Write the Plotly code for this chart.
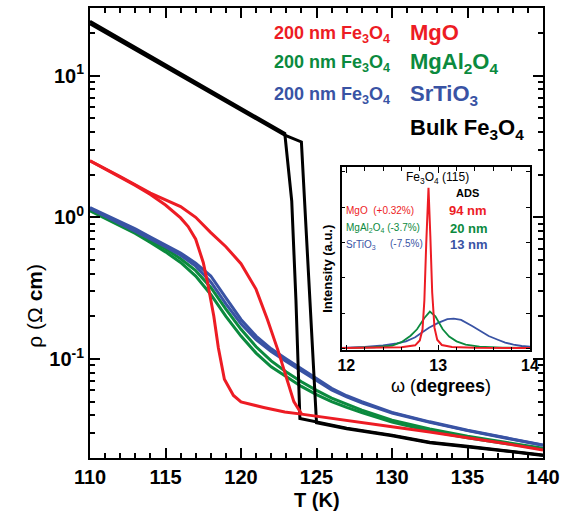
import plotly.graph_objects as go

# ---------------- main panel data ----------------
bulk_cool_T = [110, 122.9, 123.36, 123.64, 123.9, 125, 127, 130, 132.5, 135, 137.5, 140]
bulk_cool_rho = [24.2, 3.9, 1.30, 0.258, 0.038, 0.036, 0.0325, 0.029, 0.0258, 0.0242, 0.0226, 0.021]
bulk_warm_T = [110, 122.9, 124.0, 125.0, 127, 130, 132.5, 135, 137.5, 140]
bulk_warm_rho = [23.2, 3.8, 3.4, 0.0355, 0.0322, 0.0287, 0.0256, 0.024, 0.0224, 0.0208]

mgo_cool_T = [110, 112, 113, 114, 115, 116, 116.5, 117, 117.5, 117.8, 118.2, 118.5, 118.9, 119.5, 120.0,
              121.5, 122.9, 124.0, 127, 130, 132.5, 135, 137.5, 140]
mgo_cool_rho = [2.5, 1.93, 1.68, 1.45, 1.22, 0.99, 0.86, 0.7, 0.48, 0.34, 0.2, 0.12, 0.072, 0.0553, 0.0497,
                0.0455, 0.0422, 0.0408, 0.037, 0.0332, 0.0305, 0.0279, 0.0253, 0.0228]
mgo_warm_T = [110, 112, 114, 115, 116, 117, 118, 119, 120, 121, 121.75, 122.45, 123.0, 123.5, 124.0]
mgo_warm_rho = [2.5, 1.94, 1.48, 1.33, 1.19, 1.0, 0.78, 0.62, 0.47, 0.31, 0.19, 0.115, 0.075, 0.05, 0.041]

film_T = [110, 111, 112, 113, 114, 115, 116, 117, 118, 119, 120, 121, 122, 123, 124, 125, 126, 127, 128,
          130, 132.5, 135, 137.5, 140]
sto_warm_rho = [1.17, 1.04, 0.93, 0.83, 0.725, 0.64, 0.56, 0.475, 0.385, 0.27, 0.19, 0.145, 0.118, 0.1,
                0.085, 0.073, 0.062, 0.055, 0.05, 0.042, 0.036, 0.0314, 0.0278, 0.0247]
sto_cool_rho = [1.15, 1.02, 0.905, 0.805, 0.705, 0.62, 0.54, 0.452, 0.35, 0.245, 0.177, 0.137, 0.113,
                0.096, 0.082, 0.0705, 0.0605, 0.054, 0.049, 0.0415, 0.0357, 0.0312, 0.0277, 0.0246]
mao_warm_rho = [1.13, 1.0, 0.89, 0.79, 0.69, 0.6, 0.51, 0.42, 0.32, 0.225, 0.162, 0.122, 0.097, 0.081,
                0.069, 0.06, 0.053, 0.048, 0.0435, 0.037, 0.032, 0.0285, 0.0257, 0.0234]
mao_cool_rho = [1.11, 0.985, 0.87, 0.77, 0.665, 0.57, 0.48, 0.385, 0.285, 0.2, 0.145, 0.11, 0.088,
                0.0745, 0.064, 0.056, 0.05, 0.0455, 0.0418, 0.0358, 0.031, 0.0278, 0.0253, 0.0231]

# ---------------- inset data ----------------
mgo_w = [11.95, 12.3, 12.6, 12.75, 12.8, 12.83, 12.85, 12.87, 12.895, 12.915, 12.935, 12.96, 12.99,
         13.04, 13.15, 13.4, 14.0]
mgo_I = [0.003, 0.004, 0.008, 0.02, 0.05, 0.12, 0.3, 0.65, 1.0, 0.7, 0.35, 0.13, 0.055,
         0.022, 0.01, 0.005, 0.003]
mao_w = [11.95, 12.3, 12.5, 12.6, 12.7, 12.77, 12.85, 12.91, 12.97, 13.05, 13.12, 13.2, 13.3, 13.45,
         13.7, 14.0]
mao_I = [0.003, 0.008, 0.018, 0.04, 0.08, 0.12, 0.19, 0.23, 0.2, 0.12, 0.075, 0.045, 0.025, 0.012,
         0.006, 0.004]
sto_w = [11.95, 12.2, 12.4, 12.55, 12.65, 12.75, 12.82, 12.9, 13.0, 13.1, 13.17, 13.25, 13.37, 13.47,
         13.55, 13.65, 13.73, 13.82, 13.91, 14.0]
sto_I = [0.004, 0.01, 0.02, 0.032, 0.045, 0.07, 0.098, 0.13, 0.16, 0.183, 0.186, 0.178, 0.14, 0.105,
         0.078, 0.055, 0.037, 0.025, 0.016, 0.012]

# ---------------- ticks ----------------
x_ticks = [110, 115, 120, 125, 130, 135, 140]
y_tickvals = [0.1, 1, 10]
y_ticktext = ["10<sup>-1</sup>", "10<sup>0</sup>", "10<sup>1</sup>"]
y_minor = [0.02, 0.03, 0.04, 0.05, 0.06, 0.07, 0.08, 0.09, 0.2, 0.3, 0.4, 0.5, 0.6, 0.7, 0.8, 0.9,
           2, 3, 4, 5, 6, 7, 8, 9, 20, 30]
inset_ticks = [12, 13, 14]

RED = "#ED1C24"
GREEN = "#0B8A3E"
BLUE = "#3953A4"
BLACK = "#000000"
FONT = "Liberation Sans, Arial, sans-serif"

fig = go.Figure()

def add_line(x, y, color, width, xa="x", ya="y"):
    fig.add_trace(go.Scatter(x=x, y=y, mode="lines", line=dict(color=color, width=width),
                             xaxis=xa, yaxis=ya, showlegend=False, hoverinfo="skip"))

add_line(film_T, mao_cool_rho, GREEN, 3)
add_line(film_T, mao_warm_rho, GREEN, 3)
add_line(film_T, sto_cool_rho, BLUE, 3)
add_line(film_T, sto_warm_rho, BLUE, 3)
add_line(bulk_cool_T, bulk_cool_rho, BLACK, 3)
add_line(bulk_warm_T, bulk_warm_rho, BLACK, 3)
add_line(mgo_cool_T, mgo_cool_rho, RED, 3)
add_line(mgo_warm_T, mgo_warm_rho, RED, 3)

add_line(sto_w, sto_I, BLUE, 1.8, "x2", "y2")
add_line(mao_w, mao_I, GREEN, 1.8, "x2", "y2")
add_line(mgo_w, mgo_I, RED, 2, "x2", "y2")

L, R, T, B = 90, 543, 6, 458
def px(x):
    return (x - L) / (R - L)
def py(y):
    return (B - y) / (B - T)

tfont = dict(family=FONT, size=20, color=BLACK, weight="bold")

fig.update_layout(
    width=574, height=515,
    margin=dict(l=L, r=574 - R, t=T, b=515 - B),
    paper_bgcolor="white", plot_bgcolor="white",
    xaxis=dict(domain=[0, 1], range=[110, 140], tickmode="array", tickvals=x_ticks,
               ticks="inside", ticklen=10, tickwidth=2, tickcolor=BLACK,
               showline=True, linecolor=BLACK, linewidth=2, mirror="ticks",
               showgrid=False, zeroline=False, tickfont=tfont,
               minor=dict(dtick=1, ticks="inside", ticklen=5, tickwidth=1.6, tickcolor=BLACK)),
    yaxis=dict(domain=[0, 1], type="log", range=[-1.69897, 1.47712], tickmode="array",
               tickvals=y_tickvals, ticktext=y_ticktext,
               ticks="inside", ticklen=10, tickwidth=2, tickcolor=BLACK,
               showline=True, linecolor=BLACK, linewidth=2, mirror="ticks",
               showgrid=False, zeroline=False, tickfont=tfont,
               minor=dict(tickvals=y_minor, ticks="inside", ticklen=5, tickwidth=1.6, tickcolor=BLACK)),
    xaxis2=dict(domain=[px(341.7), px(530)], anchor="y2", range=[11.95, 14.0], tickmode="array",
                tickvals=inset_ticks, ticklen=6, tickwidth=1.3, showline=True, linecolor=BLACK,
                linewidth=1.5, mirror="ticks", ticks="inside", tickcolor=BLACK, showgrid=False,
                zeroline=False,
                minor=dict(dtick=0.2, tick0=12, ticks="inside", ticklen=4, tickwidth=1.1, tickcolor=BLACK),
                tickfont=dict(family=FONT, size=16, color=BLACK, weight="bold")),
    yaxis2=dict(domain=[py(350), py(166)], anchor="x2", range=[-0.012, 1.128], tick0=0, dtick=0.22,
                showticklabels=False, ticklen=4, tickwidth=1.1, showline=True, linecolor=BLACK,
                linewidth=1.5, mirror="ticks", ticks="inside", tickcolor=BLACK, showgrid=False,
                zeroline=False),
)

ann = []
def txt(x, y, text, size, color=BLACK, bold=True, xanchor="left", angle=0):
    ann.append(dict(x=px(x), y=py(y), xref="paper", yref="paper", text=text, showarrow=False,
                    xanchor=xanchor, yanchor="middle", textangle=angle,
                    font=dict(family=FONT, size=size, color=color,
                              weight="bold" if bold else "normal")))

FE = "Fe<sub>3</sub>O<sub>4</sub>"
txt(272, 33, "200 nm " + FE, 18, RED)
txt(408, 31, "MgO", 22, RED)
txt(272, 62, "200 nm " + FE, 18, GREEN)
txt(408, 61, "MgAl<sub>2</sub>O<sub>4</sub>", 22, GREEN)
txt(272, 94, "200 nm " + FE, 18, BLUE)
txt(408, 93, "SrTiO<sub>3</sub>", 22, BLUE)
txt(408, 128, "Bulk " + FE, 22, BLACK)

txt(437, 177, FE + " (115)", 12, BLACK, bold=False, xanchor="center")
txt(467, 192, "ADS", 11, BLACK, xanchor="center")
txt(344, 209, "MgO  (+0.32%)", 10, RED, bold=False)
txt(447, 209, "94 nm", 13, RED)
txt(344, 227, "MgAl<sub>2</sub>O<sub>4</sub> (-3.7%)", 10, GREEN, bold=False)
txt(448, 227, "20 nm", 13, GREEN)
txt(344, 244, "SrTiO<sub>3</sub>", 10, BLUE, bold=False)
txt(388, 243, "(-7.5%)", 10, BLUE, bold=False)
txt(448, 244, "13 nm", 13, BLUE)

txt(328, 268, "Intensity (a.u.)", 13, BLACK, xanchor="center", angle=-90)
txt(441, 386, "\u03c9 (<b>degrees</b>)", 18, BLACK, bold=False, xanchor="center")
txt(317, 500, "T (K)", 20, BLACK, xanchor="center")
txt(35, 305, "\u03c1 (\u03a9 <b>cm</b>)", 21, BLACK, bold=False, xanchor="center", angle=-90)

fig.update_layout(annotations=ann)
fig.write_html("out.html")
